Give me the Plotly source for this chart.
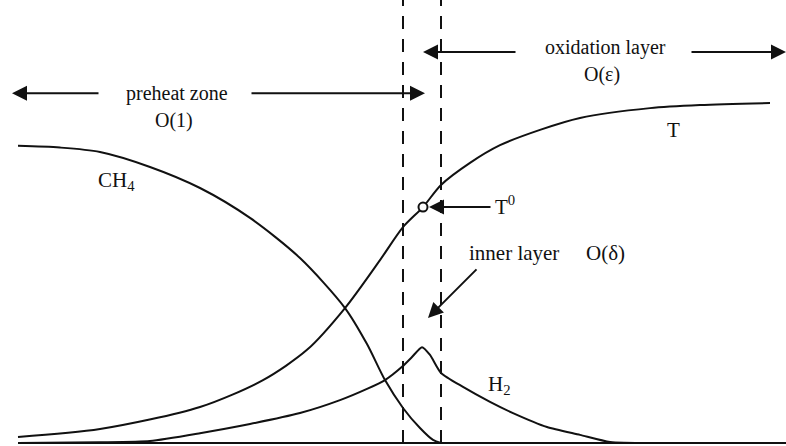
import plotly.graph_objects as go

# Flame-structure profiles across the reaction zone (position, normalized value)
t_x = [18, 100, 200, 263, 307, 345, 380, 403, 423, 441, 470, 500, 540, 580, 650, 700, 770]
t_v = [0.018, 0.041, 0.106, 0.185, 0.274, 0.397, 0.538, 0.635, 0.694, 0.759, 0.824,
       0.876, 0.921, 0.956, 0.985, 0.994, 1.000]

ch4_x = [18, 60, 100, 150, 200, 250, 300, 345, 367, 385, 403, 420, 433, 441]
ch4_v = [0.874, 0.869, 0.856, 0.812, 0.750, 0.662, 0.544, 0.397, 0.291, 0.185,
         0.103, 0.044, 0.009, 0.000]

h2_x = [18, 100, 150, 200, 250, 300, 340, 367, 385, 402, 412, 422, 430, 441,
        463, 490, 513, 547, 580, 610, 650]
h2_v = [0.000, 0.002, 0.006, 0.029, 0.056, 0.088, 0.126, 0.159, 0.185, 0.224,
        0.253, 0.282, 0.259, 0.206, 0.165, 0.121, 0.088, 0.047, 0.024, 0.003, 0.000]

# inner-layer temperature point and layer boundaries
t0_x = [423]
t0_v = [0.694]
boundaries_x = [403, 441]

X_RANGE = [0, 786]
Y_RANGE = [-0.0088, 1.303]
INK = "#111111"
SERIF = "Liberation Serif, Times New Roman, serif"
FONT_SIZE = 21

fig = go.Figure()

line_style = dict(color=INK, width=2, shape="spline", smoothing=0.8)
fig.add_trace(go.Scatter(x=t_x, y=t_v, mode="lines", line=line_style, hoverinfo="skip"))
fig.add_trace(go.Scatter(x=ch4_x, y=ch4_v, mode="lines", line=line_style, hoverinfo="skip"))
fig.add_trace(go.Scatter(x=h2_x, y=h2_v, mode="lines",
                         line=dict(color=INK, width=2, shape="spline", smoothing=0.6),
                         hoverinfo="skip"))
fig.add_trace(go.Scatter(x=t0_x, y=t0_v, mode="markers",
                         marker=dict(symbol="circle", size=9, color="white",
                                     line=dict(color=INK, width=2)),
                         hoverinfo="skip"))

# baseline
fig.add_shape(type="line", x0=18, x1=786, y0=0, y1=0, line=dict(color=INK, width=2))
# layer boundaries
for bx in boundaries_x:
    fig.add_shape(type="line", x0=bx, x1=bx, y0=0, y1=Y_RANGE[1],
                  line=dict(color=INK, width=2, dash="13px,10px"))


def arrow(x_head, y_head, x_tail, y_tail):
    fig.add_annotation(x=x_head, y=y_head, ax=x_tail, ay=y_tail,
                       xref="x", yref="y", axref="x", ayref="y",
                       text="", showarrow=True, arrowhead=2, arrowsize=1.5,
                       arrowwidth=2, arrowcolor=INK)


def label(x, y, text, xanchor="center", size=FONT_SIZE):
    fig.add_annotation(x=x, y=y, xref="x", yref="y", text=text, showarrow=False,
                       xanchor=xanchor, yanchor="middle",
                       font=dict(family=SERIF, size=size, color=INK))


# preheat zone
arrow(12, 1.029, 100, 1.029)
arrow(425, 1.029, 250, 1.029)
label(177, 1.029, "preheat zone", size=20)
label(174, 0.950, "O(1)", size=20)

# oxidation layer
arrow(423, 1.150, 517, 1.150)
arrow(786, 1.150, 690, 1.150)
label(605, 1.162, "oxidation layer", size=20)
label(602, 1.085, "O(ε)", size=20)

# curve labels
label(673, 0.921, "T")
label(96, 0.771, "CH<sub>4</sub>", xanchor="left")
label(486, 0.170, "H<sub>2</sub>", xanchor="left")

# inner layer
arrow(429, 0.694, 492, 0.694)
label(493, 0.700, "T<sup>0</sup>", xanchor="left")
arrow(428, 0.368, 478, 0.515)
label(467, 0.559, "inner layer", xanchor="left")
label(584, 0.559, "O(δ)", xanchor="left")

fig.update_layout(
    width=786, height=446,
    margin=dict(l=0, r=0, t=0, b=0),
    paper_bgcolor="white", plot_bgcolor="white",
    showlegend=False,
    xaxis=dict(range=X_RANGE, visible=False, fixedrange=True),
    yaxis=dict(range=Y_RANGE, visible=False, fixedrange=True),
)

fig.write_html("out.html")
